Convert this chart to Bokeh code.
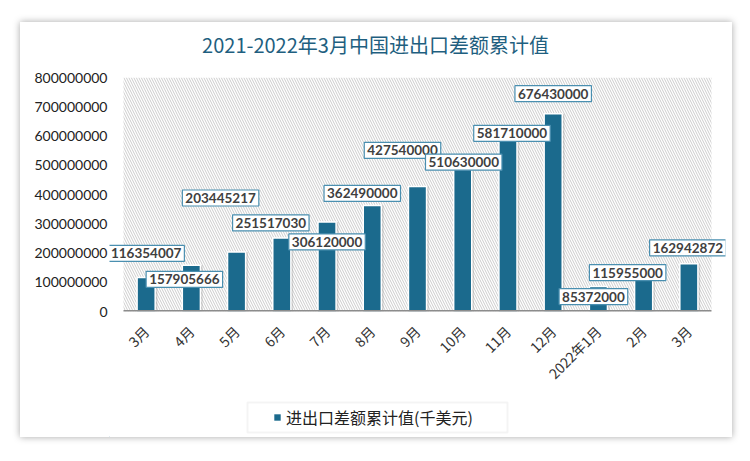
import math
from bokeh.plotting import figure
from bokeh.layouts import column
from bokeh.models import (Range1d, FixedTicker, NumeralTickFormatter, Label,
                          BoxAnnotation, Legend, LegendItem, ColumnDataSource)
from bokeh.embed import file_html
from bokeh.resources import INLINE

# ---- data ----
categories = ["3月", "4月", "5月", "6月", "7月", "8月", "9月", "10月", "11月",
              "12月", "2022年1月", "2月", "3月"]
values = [116354007, 157905666, 203445217, 251517030, 306120000, 362490000,
          427540000, 510630000, 581710000, 676430000, 85372000, 115955000,
          162942872]
y_ticks = [0, 100000000, 200000000, 300000000, 400000000, 500000000,
           600000000, 700000000, 800000000]
series_name = "进出口差额累计值(千美元)"
title_text = "2021-2022年3月中国进出口差额累计值"

# label offsets in screen pixels (dx, dy relative to bar top, dy positive = up)
label_dx = [0, -7, -16, -11, 0, -10, -15, 1, 4, 0, -5, -16, -1]
label_dy = [24, -14, 54, 15, -20, 12, 36, 0, 8, 20, -10, 5, 16]

BAR = "#1b6a8d"
W = 712
N = len(categories)
EXT = 0.31  # frame extends beyond hatched area so labels aren't clipped
FW = 616    # frame width shared by all strips (aligned by the column layout)


def strip(height):
    f = figure(width=W, height=height, output_backend="svg",
               toolbar_location=None,
               x_range=Range1d(0, FW), y_range=Range1d(0, height),
               min_border=0, min_border_left=0, min_border_right=0,
               min_border_top=0, min_border_bottom=0)
    f.axis.visible = False
    f.grid.visible = False
    f.outline_line_color = None
    f.border_fill_color = "white"
    f.background_fill_color = "white"
    return f


# ---- title strip ----
pt = strip(47)
pt.add_layout(Label(x=266, y=25, text=title_text, text_align="center",
                    text_baseline="middle", text_font="Noto Sans CJK SC",
                    text_font_size="20px", text_color="#1f5f80"))

# ---- chart ----
xs = list(range(N))
src = ColumnDataSource(dict(x=xs, top=values))

p = figure(width=W, height=323, output_backend="svg", toolbar_location=None,
           x_range=Range1d(-0.5 - EXT, N - 0.5 + EXT),
           y_range=Range1d(0, 800000000),
           min_border_left=89, min_border_right=7,
           min_border_top=8, min_border_bottom=79)
p.outline_line_color = None
p.border_fill_color = "white"
p.background_fill_color = "white"
p.xgrid.visible = False
p.ygrid.visible = False

# hatched plot area
p.add_layout(BoxAnnotation(left=-0.5, right=N - 0.5,
                           bottom=0, top=800000000,
                           fill_color="white", fill_alpha=1,
                           hatch_pattern="\\", hatch_color="#cccccc",
                           hatch_scale=5, hatch_weight=1, hatch_alpha=1,
                           line_color=None, level="underlay"))

# bar shadows
p.vbar(x=[x + 0.05 for x in xs], top=values, width=0.4, bottom=0,
       fill_color="#888888", fill_alpha=0.3, line_color=None)
bars = p.vbar(x="x", top="top", source=src, width=0.4, bottom=0,
              fill_color=BAR, line_color="white", line_width=1.5)
# category axis baseline
p.segment(x0=[-0.5], y0=[0], x1=[N - 0.5], y1=[0], line_color="#8c8c8c",
          line_width=3)

# axes
p.xaxis.ticker = FixedTicker(ticks=xs)
p.xaxis.major_label_overrides = {i: c for i, c in enumerate(categories)}
p.xaxis.major_label_orientation = math.pi / 4
p.xaxis.major_label_text_font = "Noto Sans CJK SC"
p.xaxis.major_label_text_font_size = "14px"
p.xaxis.major_label_text_color = "#333333"
p.xaxis.axis_line_color = None
p.xaxis.major_tick_line_color = None
p.xaxis.minor_tick_line_color = None
p.xaxis.major_tick_out = 0
p.xaxis.major_label_standoff = 17

p.yaxis.ticker = FixedTicker(ticks=y_ticks)
p.yaxis.formatter = NumeralTickFormatter(format="0")
p.yaxis.major_label_text_font = "Lato"
p.yaxis.major_label_text_font_size = "14px"
p.yaxis.major_label_text_color = "#222222"
p.yaxis.axis_line_color = None
p.yaxis.major_tick_line_color = None
p.yaxis.minor_tick_line_color = None
p.yaxis.major_tick_out = 0
p.yaxis.major_label_standoff = 2

# data labels
for i, v in enumerate(values):
    p.add_layout(Label(x=xs[i], y=v, x_offset=label_dx[i], y_offset=label_dy[i],
                       text=str(v), text_align="center", text_baseline="middle",
                       text_font="Lato", text_font_size="13.5px",
                       text_font_style="bold", text_color="#404040",
                       background_fill_color="white",
                       border_line_color="#4a8fb0", border_line_width=1.2,
                       padding=3))

# ---- legend strip ----
pl = strip(45)
pl.add_layout(BoxAnnotation(left=138, right=398, bottom=5, top=35,
                            fill_color="white", fill_alpha=1,
                            line_color="#d9d9d9", line_width=2))
dummy = pl.vbar(x=[-100], top=[1], width=1, fill_color=BAR, line_color=None)
legend = Legend(items=[LegendItem(label=series_name, renderers=[dummy])],
                location=(164, 8), orientation="horizontal",
                glyph_width=8, glyph_height=8,
                label_text_font="Noto Sans CJK SC", label_text_font_size="16px",
                label_text_color="#222222",
                border_line_color=None, background_fill_alpha=0,
                padding=2, margin=0, label_standoff=5)
pl.add_layout(legend, "center")

card = column(pt, p, pl, spacing=0,
              styles={"margin-left": "20px", "margin-top": "22px",
                      "box-shadow": "0px 0px 7px rgba(0,0,0,0.35)"})

open("out.html", "w").write(file_html(card, INLINE))
